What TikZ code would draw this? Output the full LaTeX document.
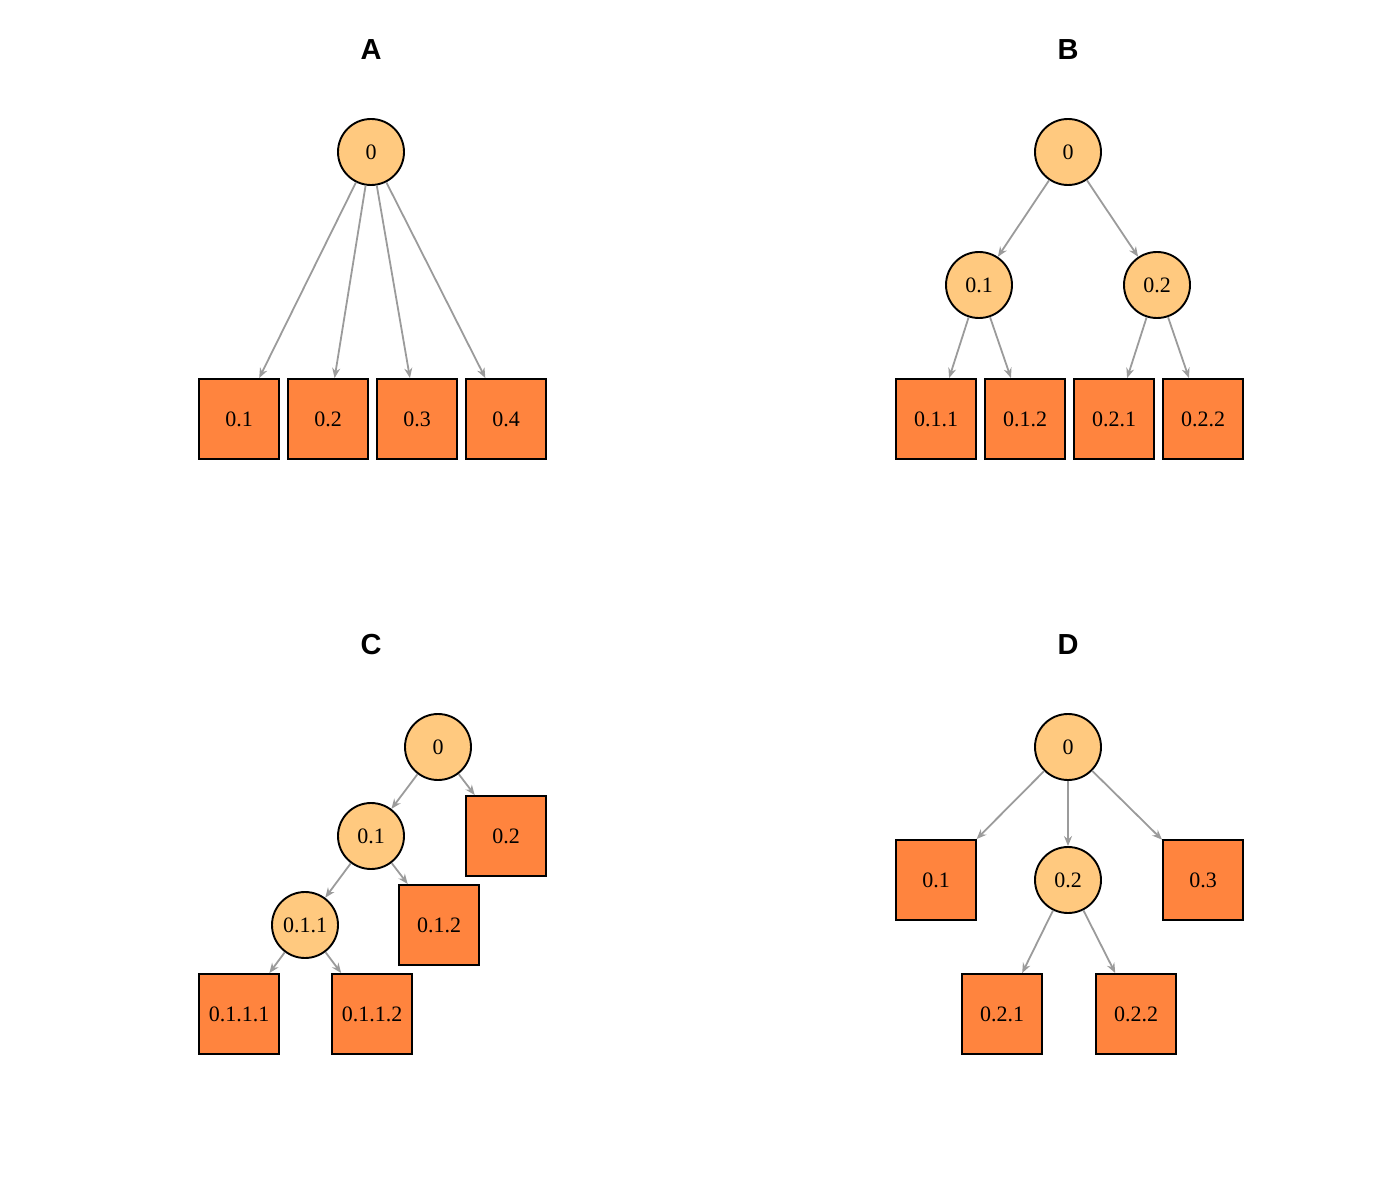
\documentclass[tikz,border=0pt]{standalone}
\usepackage{fontspec}
\setmainfont{Liberation Serif}
\newfontfamily\titlefont{Liberation Sans}
\usepackage{tikz}
\usetikzlibrary{shapes.geometric, arrows.meta}
\definecolor{innerfill}{HTML}{FFC97F}
\definecolor{leaffill}{HTML}{FF843E}
\definecolor{edgegray}{HTML}{9B9B9B}
\tikzstyle{paneltitle} = [font=\titlefont\fontsize{29}{30}\selectfont\bfseries]
\tikzstyle{inner} = [circle, minimum size=66pt, inner sep=0pt, text centered, draw=black, line width=1.9pt, fill=innerfill, font=\fontsize{22}{24}\selectfont]
\tikzstyle{leaf} = [rectangle, minimum size=80pt, inner sep=0pt, text centered, draw=black, line width=1.9pt, fill=leaffill, font=\fontsize{22}{24}\selectfont]
\tikzstyle{arrow} = [line width=1.8pt, draw=edgegray, ->, >={Stealth[length=10pt, width=8pt]}]

\begin{document}
\begin{tikzpicture}[x=1pt, y=1pt, node distance=133pt]

    \useasboundingbox (0,0) rectangle (1394,-1190);

    % Panel A
    \node (titleA) [paneltitle] at (371,-50) {A};
    \node (a0) [inner] at (371,-152) {0};
    \node (a1) [leaf, below of=a0, yshift=-134pt, xshift=-132pt] {0.1};
    \node (a2) [leaf, below of=a0, yshift=-134pt, xshift=-43pt] {0.2};
    \node (a3) [leaf, below of=a0, yshift=-134pt, xshift=46pt] {0.3};
    \node (a4) [leaf, below of=a0, yshift=-134pt, xshift=135pt] {0.4};

    % Arrows for A
    \draw [arrow] (a0) -- (a1);
    \draw [arrow] (a0) -- (a2);
    \draw [arrow] (a0) -- (a3);
    \draw [arrow] (a0) -- (a4);

    % Panel B
    \node (titleB) [paneltitle] at (1068,-50) {B};
    \node (b0) [inner] at (1068,-152) {0};
    \node (b1) [inner, below of=b0, xshift=-89pt] {0.1};
    \node (b2) [inner, below of=b0, xshift=89pt] {0.2};
    \node (b11) [leaf, below of=b1, yshift=-1pt, xshift=-43pt] {0.1.1};
    \node (b12) [leaf, below of=b1, yshift=-1pt, xshift=46pt] {0.1.2};
    \node (b21) [leaf, below of=b2, yshift=-1pt, xshift=-43pt] {0.2.1};
    \node (b22) [leaf, below of=b2, yshift=-1pt, xshift=46pt] {0.2.2};

    % Arrows for B
    \draw [arrow] (b0) -- (b1);
    \draw [arrow] (b0) -- (b2);
    \draw [arrow] (b1) -- (b11);
    \draw [arrow] (b1) -- (b12);
    \draw [arrow] (b2) -- (b21);
    \draw [arrow] (b2) -- (b22);

    % Panel C
    \node (titleC) [paneltitle] at (371,-645) {C};
    \node (c0) [inner] at (438,-747) {0};
    \node (c1) [inner, below of=c0, yshift=44pt, xshift=-67pt] {0.1};
    \node (c2) [leaf, below of=c0, yshift=44pt, xshift=68pt] {0.2};
    \node (c11) [inner, below of=c1, yshift=44pt, xshift=-66pt] {0.1.1};
    \node (c12) [leaf, below of=c1, yshift=44pt, xshift=68pt] {0.1.2};
    \node (c111) [leaf, below of=c11, yshift=44pt, xshift=-66pt] {0.1.1.1};
    \node (c112) [leaf, below of=c11, yshift=44pt, xshift=67pt] {0.1.1.2};

    % Arrows for C
    \draw [arrow] (c0) -- (c1);
    \draw [arrow] (c0) -- (c2);
    \draw [arrow] (c1) -- (c11);
    \draw [arrow] (c1) -- (c12);
    \draw [arrow] (c11) -- (c111);
    \draw [arrow] (c11) -- (c112);

    % Panel D
    \node (titleD) [paneltitle] at (1068,-645) {D};
    \node (d0) [inner] at (1068,-747) {0};
    \node (d1) [leaf, below of=d0, xshift=-132pt] {0.1};
    \node (d2) [inner, below of=d0] {0.2};
    \node (d3) [leaf, below of=d0, xshift=135pt] {0.3};
    \node (d21) [leaf, below of=d2, yshift=-1pt, xshift=-66pt] {0.2.1};
    \node (d22) [leaf, below of=d2, yshift=-1pt, xshift=68pt] {0.2.2};

    % Arrows for D
    \draw [arrow] (d0) -- (d1);
    \draw [arrow] (d0) -- (d2);
    \draw [arrow] (d0) -- (d3);
    \draw [arrow] (d2) -- (d21);
    \draw [arrow] (d2) -- (d22);

\end{tikzpicture}
\end{document}
